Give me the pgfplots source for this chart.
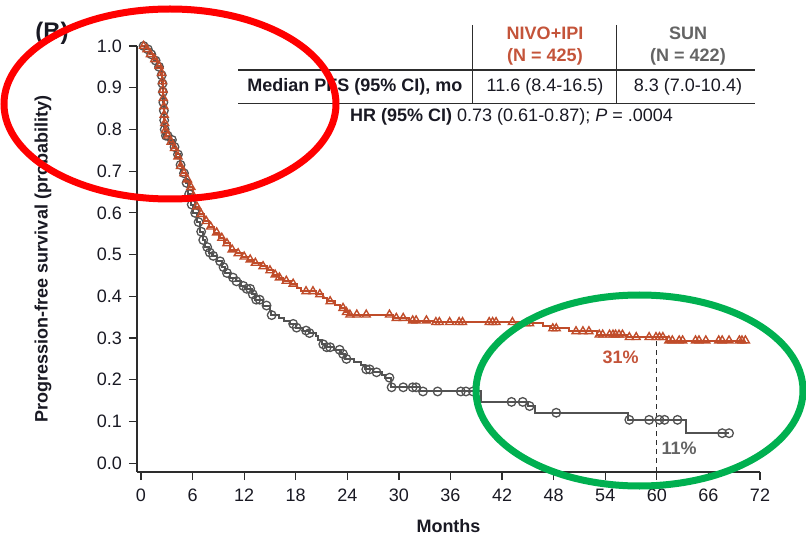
\documentclass[border=0pt]{standalone}
\usepackage{pgfplots}
\pgfplotsset{compat=1.18}
\usepackage{pgfplotstable}
\usepackage{fontspec}
\setmainfont{Liberation Sans}
\definecolor{nivo}{RGB}{192,76,42}
\definecolor{nivotxt}{RGB}{196,84,58}
\definecolor{sun}{RGB}{82,82,82}
\definecolor{suntxt}{RGB}{100,100,100}
\definecolor{axc}{RGB}{45,45,45}
\definecolor{txt}{RGB}{25,25,35}
\definecolor{ringgreen}{RGB}{0,176,80}
\definecolor{ringred}{RGB}{255,0,0}

% NIVO+IPI: t = months, s = survival, c = 1 censored
\pgfplotstableread{
t s c
0 1.000 0
0.3 1.000 1
0.5 0.992 0
0.7 0.992 1
1.0 0.980 0
1.1 0.980 1
1.4 0.968 0
1.6 0.968 1
1.9 0.952 0
2.1 0.952 1
2.3 0.935 0
2.4 0.935 1
2.45 0.915 0
2.5 0.915 1
2.52 0.895 0
2.55 0.895 1
2.58 0.875 0
2.6 0.875 1
2.63 0.855 0
2.66 0.855 1
2.68 0.835 0
2.7 0.835 1
2.73 0.815 0
2.76 0.815 1
2.8 0.798 0
2.85 0.798 1
2.95 0.785 0
3.1 0.785 1
3.3 0.770 0
3.5 0.770 1
3.7 0.755 0
3.9 0.755 1
4.1 0.735 0
4.3 0.735 1
4.5 0.712 0
4.6 0.712 1
4.8 0.695 0
5.0 0.695 1
5.2 0.680 0
5.4 0.680 1
5.6 0.662 0
5.8 0.662 1
6.0 0.640 0
6.1 0.640 1
6.3 0.615 0
6.5 0.615 1
6.8 0.597 0
7.0 0.597 1
7.3 0.580 0
7.6 0.580 1
7.9 0.567 0
8.1 0.567 1
8.5 0.553 0
8.8 0.553 1
9.1 0.540 0
9.4 0.540 1
9.7 0.527 0
10.0 0.527 1
10.3 0.512 0
10.6 0.512 1
11.0 0.503 0
11.3 0.503 1
11.7 0.495 0
12.0 0.495 1
12.4 0.488 0
12.7 0.488 1
13.0 0.480 0
13.3 0.480 1
14.0 0.472 0
14.2 0.472 1
14.7 0.462 0
15.0 0.462 1
15.3 0.452 0
15.6 0.452 1
16.1 0.445 1
16.5 0.437 0
16.9 0.437 1
17.4 0.430 0
17.7 0.430 1
18.1 0.420 0
18.6 0.412 0
19.2 0.412 1
20.0 0.412 1
20.4 0.405 0
20.8 0.405 1
21.2 0.395 0
21.6 0.388 0
22.0 0.388 1
22.6 0.380 0
23.1 0.372 0
23.5 0.372 1
23.7 0.362 0
23.9 0.362 1
24.1 0.356 0
24.3 0.356 1
25.1 0.356 1
26.2 0.356 1
28.9 0.356 1
29.3 0.348 0
29.7 0.348 1
30.5 0.348 1
31.2 0.342 0
31.6 0.342 1
32.0 0.342 1
33.2 0.342 1
34.0 0.338 0
34.3 0.338 1
34.7 0.338 1
35.9 0.338 1
37.0 0.338 1
37.4 0.338 1
40.5 0.338 1
40.9 0.338 1
41.3 0.338 1
43.2 0.338 1
44.5 0.335 0
44.8 0.335 1
45.2 0.335 1
46.8 0.330 0
47.6 0.323 0
47.9 0.323 1
48.3 0.323 1
49.8 0.316 0
50.6 0.316 1
51.4 0.316 1
52.1 0.316 1
53.0 0.308 0
53.3 0.308 1
53.7 0.308 1
54.5 0.308 1
54.9 0.308 1
55.2 0.308 1
55.6 0.308 1
56.0 0.308 1
56.5 0.302 0
56.8 0.302 1
57.6 0.302 1
59.1 0.302 1
59.9 0.302 1
60.3 0.302 1
60.7 0.302 1
61.2 0.294 0
61.4 0.294 1
61.8 0.294 1
62.6 0.294 1
63.0 0.294 1
64.5 0.294 1
64.9 0.294 1
65.7 0.294 1
67.2 0.294 1
67.6 0.294 1
68.4 0.294 1
69.6 0.294 1
69.9 0.294 1
70.3 0.294 1
}\nivotab

% SUN
\pgfplotstableread{
t s c
0 1.000 0
0.3 1.000 1
0.5 0.992 0
0.8 0.992 1
1.0 0.980 0
1.2 0.980 1
1.5 0.965 0
1.7 0.965 1
1.9 0.950 0
2.1 0.950 1
2.3 0.930 0
2.4 0.930 1
2.45 0.910 0
2.5 0.910 1
2.52 0.890 0
2.55 0.890 1
2.58 0.865 0
2.6 0.865 1
2.63 0.845 0
2.66 0.845 1
2.68 0.822 0
2.7 0.822 1
2.73 0.800 0
2.76 0.800 1
2.8 0.785 0
2.9 0.785 1
3.1 0.785 1
3.4 0.775 0
3.6 0.775 1
3.8 0.758 0
3.9 0.758 1
4.1 0.740 0
4.3 0.740 1
4.5 0.715 0
4.6 0.715 1
4.8 0.695 0
5.0 0.695 1
5.2 0.672 0
5.3 0.672 1
5.5 0.645 0
5.6 0.645 1
5.8 0.620 0
5.9 0.620 1
6.1 0.600 0
6.3 0.600 1
6.5 0.578 0
6.7 0.578 1
6.9 0.555 0
7.0 0.555 1
7.2 0.535 0
7.24 0.535 1
7.5 0.518 0
7.7 0.518 1
7.9 0.505 0
8.0 0.505 1
8.3 0.497 0
8.4 0.497 1
8.8 0.484 0
9.2 0.484 1
9.4 0.470 0
9.6 0.470 1
9.8 0.456 0
10.0 0.456 1
10.4 0.445 0
10.7 0.445 1
11.0 0.436 0
11.1 0.436 1
11.6 0.425 0
11.9 0.425 1
12.1 0.418 0
12.3 0.418 1
12.7 0.418 1
12.9 0.405 0
13.0 0.405 1
13.3 0.392 0
13.4 0.392 1
13.8 0.392 1
14.2 0.378 0
14.6 0.378 1
15.0 0.365 0
15.1 0.355 0
15.2 0.355 1
16.0 0.348 0
16.6 0.340 0
17.3 0.334 0
17.7 0.334 1
18.0 0.325 0
18.1 0.325 1
18.8 0.318 0
19.2 0.318 1
19.5 0.312 0
19.6 0.312 1
20.3 0.305 0
20.6 0.295 0
21.0 0.285 0
21.2 0.285 1
21.4 0.278 0
21.6 0.278 1
22.0 0.278 1
22.5 0.272 0
23.1 0.272 1
23.3 0.262 0
23.5 0.262 1
23.7 0.250 0
23.9 0.250 1
24.8 0.242 0
25.6 0.235 0
26.0 0.225 0
26.2 0.225 1
26.6 0.225 1
27.0 0.218 0
27.4 0.218 1
28.0 0.212 0
28.4 0.205 0
28.9 0.205 1
29.1 0.182 0
29.15 0.182 1
30.5 0.182 1
31.6 0.182 1
32.0 0.182 1
32.5 0.172 0
32.8 0.172 1
34.5 0.172 1
37.2 0.172 1
37.8 0.172 1
38.6 0.172 1
39.6 0.147 0
43.1 0.147 1
44.4 0.147 1
45.0 0.137 0
45.2 0.137 1
45.8 0.121 0
48.3 0.121 1
56.6 0.104 0
56.8 0.104 1
59.1 0.104 1
60.3 0.104 1
60.9 0.104 1
62.4 0.104 1
63.4 0.072 0
67.6 0.072 1
68.4 0.072 1
}\suntab

\begin{document}
\begin{tikzpicture}
\useasboundingbox (-137pt,-64pt) rectangle (669pt,472pt);
\begin{axis}[
  at={(0pt,0pt)}, anchor=south west,
  scale only axis, width=623pt, height=426pt,
  xmin=-0.465, xmax=72, ymin=-0.021, ymax=1.0,
  axis x line=bottom, axis y line=left,
  axis line style={-, line width=1.3pt, color=axc},
  clip=false,
  xtick={0,6,...,72},
  ytick={0,0.1,...,1.0},
  yticklabel style={/pgf/number format/fixed, /pgf/number format/fixed zerofill, /pgf/number format/precision=1, inner sep=0pt, xshift=-7pt, anchor=east},
  /pgf/number format/assume math mode=true,
  tick align=outside,
  major tick length=8pt,
  tick style={line width=1.2pt, color=axc},
  every tick label/.append style={font=\fontsize{18}{21}\selectfont, text=txt},
  xticklabel style={inner sep=0pt, yshift=-9pt, anchor=north},
  xlabel={\textbf{Months}},
  ylabel={\textbf{Progression-free survival (probability)}},
  every axis x label/.style={at={(axis description cs:0.5,-0.127)}, anchor=center, font=\fontsize{18}{21}\selectfont, text=txt},
  every axis y label/.style={at={(axis description cs:-0.151,0.5)}, anchor=center, rotate=90, font=\fontsize{18}{21}\selectfont, text=txt},
]
% dashed 60-month line
\addplot[line width=1pt, color=axc, dash pattern=on 5pt off 4pt] coordinates {(60,-0.021) (60,0.302)};

% SUN (censored rows, c = 1, kept by pushing c = 0 rows past x = 1000)
\addplot[const plot, no marks, color=sun, line width=2pt] table[x=t,y=s]{\suntab};
\addplot[only marks, restrict x to domain=-1:100, mark=o, mark size=4.3pt, color=sun, mark options={line width=1.3pt}] table[x expr={\thisrow{t}+1000*(1-\thisrow{c})}, y=s]{\suntab};

% NIVO+IPI
\addplot[const plot, no marks, color=nivo, line width=2pt] table[x=t,y=s]{\nivotab};
\addplot[only marks, restrict x to domain=-1:100, mark=triangle, mark size=4.6pt, color=nivo, mark options={line width=1.4pt}] table[x expr={\thisrow{t}+1000*(1-\thisrow{c})}, y=s]{\nivotab};

\node[font=\fontsize{18}{21}\selectfont\bfseries, text=nivotxt] at (axis cs:55.8,0.255) {31\%};
\node[font=\fontsize{18}{21}\selectfont\bfseries, text=suntxt] at (axis cs:62.6,0.036) {11\%};
\end{axis}

% table
\begin{scope}[font=\fontsize{18}{21}\selectfont, text=txt]
\draw[line width=1.2pt, color=axc] (101pt,402pt) -- (618pt,402pt);
\draw[line width=1.2pt, color=axc] (101pt,368.7pt) -- (618pt,368.7pt);
\draw[line width=1.2pt, color=axc] (335.3pt,447pt) -- (335.3pt,368.7pt);
\draw[line width=1.2pt, color=axc] (479.7pt,447pt) -- (479.7pt,368.7pt);
\node[text=nivotxt, font=\fontsize{18}{21}\selectfont\bfseries] at (408pt,439pt) {NIVO+IPI};
\node[text=nivotxt, font=\fontsize{18}{21}\selectfont\bfseries] at (408pt,415pt) {(N = 425)};
\node[text=suntxt, font=\fontsize{18}{21}\selectfont\bfseries] at (551pt,439pt) {SUN};
\node[text=suntxt, font=\fontsize{18}{21}\selectfont\bfseries] at (551pt,415pt) {(N = 422)};
\node[anchor=east, font=\fontsize{18}{21}\selectfont\bfseries] at (329pt,385pt) {Median PFS (95\% CI), mo};
\node at (408pt,385pt) {11.6 (8.4-16.5)};
\node at (551pt,385pt) {8.3 (7.0-10.4)};
\node[anchor=west, inner sep=0pt] at (213pt,355pt) {\textbf{HR (95\% CI)} 0.73 (0.61-0.87); \textit{P} = .0004};
\node[font=\fontsize{24}{28}\selectfont\bfseries] at (-85pt,439pt) {(B)};
\end{scope}

% annotation rings
\draw[ringred, line width=7pt] (33pt,368pt) ellipse [x radius=166pt, y radius=95pt];
\draw[ringgreen, line width=7pt] (502.5pt,81.5pt) ellipse [x radius=163.5pt, y radius=95.5pt];
\end{tikzpicture}
\end{document}
